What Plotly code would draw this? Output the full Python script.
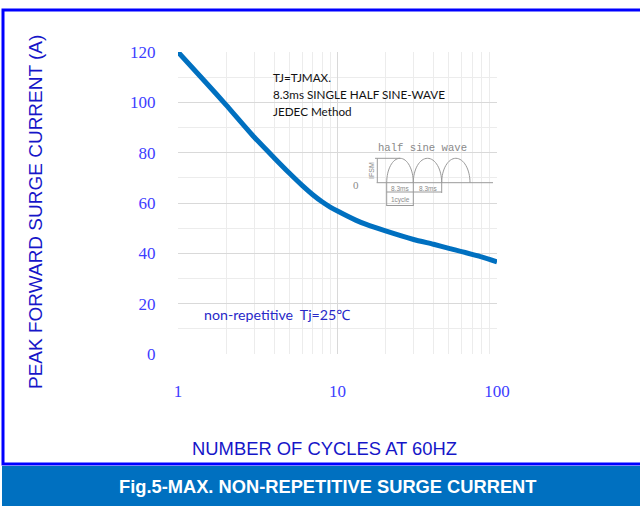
import plotly.graph_objects as go

# ---------------- data ----------------
cycles = [1, 1.5, 2, 3, 4, 5, 6, 7, 8, 9, 10, 13, 15, 20, 30, 40, 50, 80, 100]
current = [120, 107.8, 99, 86.2, 78, 71.8, 67, 63.3, 60.5, 58.4, 56.8, 53.2, 51.6, 48.9, 45.5, 43.6, 42.0, 38.6, 36.6]
y_ticks = [0, 20, 40, 60, 80, 100, 120]
x_ticks = [1, 10, 100]
x_tick_labels = ["1", "10", "100"]

W, H = 640, 506
L, R, T, B = 178, 143, 52, 152
PW, PH = W - L - R, H - T - B


def px(x):
    return (x - L) / PW


def py(y):
    return (H - B - y) / PH


fig = go.Figure()
fig.add_trace(go.Scatter(
    x=cycles, y=current, mode="lines",
    line=dict(color="#0070C0", width=5, shape="spline", smoothing=0.6),
    hoverinfo="skip", showlegend=False,
))

tick_font = dict(family="Liberation Serif, Times New Roman, serif", size=17, color="#3d3dff")
fig.update_xaxes(
    type="log", range=[0, 2], tickvals=x_ticks, ticktext=x_tick_labels,
    showgrid=True, gridcolor="#d9d9d9", gridwidth=1,
    minor=dict(dtick="D1", showgrid=True, gridcolor="#ececec", gridwidth=1, ticks=""),
    ticks="outside", ticklen=22, tickcolor="rgba(0,0,0,0)",
    tickfont=tick_font, showline=False, zeroline=False,
)
fig.update_yaxes(
    range=[0, 120], tickvals=y_ticks,
    showgrid=True, gridcolor="#d9d9d9", gridwidth=1,
    minor=dict(dtick=10, showgrid=True, gridcolor="#ececec", gridwidth=1, ticks=""),
    ticks="outside", ticklen=18, tickcolor="rgba(0,0,0,0)",
    tickfont=tick_font, showline=False, zeroline=False,
)

shapes = []


def rect(x0, y0, x1, y1, fill=None, line=None, lw=0, layer="above"):
    d = dict(type="rect", xref="paper", yref="paper",
             x0=px(x0), x1=px(x1), y0=py(y1), y1=py(y0), layer=layer,
             line=dict(width=lw, color=line or "rgba(0,0,0,0)"))
    if fill:
        d["fillcolor"] = fill
    shapes.append(d)


def seg(x0, y0, x1, y1, color="#9a9a9a", w=1):
    shapes.append(dict(type="line", xref="paper", yref="paper",
                       x0=px(x0), y0=py(y0), x1=px(x1), y1=py(y1),
                       line=dict(color=color, width=w), layer="above"))


# white boxes hiding the grid behind the notes
rect(252, 63, 485, 135, fill="white", layer="between")
rect(348, 135, 490, 212, fill="white", layer="between")
rect(182, 290, 382, 355, fill="white", layer="between")

# outer frame and bottom bar
rect(3, 10, 643, 464, line="#0000ff", lw=3)
rect(2, 466, 642, 507, fill="#0070C0")

# inset: half sine wave sketch
base, peak = 182.7, 158.3
seg(376.7, base, 493, base)
k = 0.5523
for a, b in [(386.7, 413.3), (413.3, 441.7), (441.7, 470)]:
    m = (a + b) / 2
    hw = (b - a) / 2
    hh = base - peak
    path = (f"M {px(a)},{py(base)} "
            f"C {px(a)},{py(base - k * hh)} {px(m - k * hw)},{py(peak)} {px(m)},{py(peak)} "
            f"C {px(m + k * hw)},{py(peak)} {px(b)},{py(base - k * hh)} {px(b)},{py(base)}")
    shapes.append(dict(type="path", xref="paper", yref="paper", path=path,
                       line=dict(color="#9a9a9a", width=1), layer="above"))
seg(377.3, peak, 377.3, base)
seg(375, peak, 400, peak)
seg(386.7, base, 386.7, 206)
seg(413.3, base, 413.3, 206)
seg(441.7, base, 441.7, 193)
seg(386.7, 192, 441.7, 192)
seg(386.7, 205.5, 413.3, 205.5)

fig.update_layout(shapes=shapes)

ann = []


def text(x, y, s, size, color, family, xanchor="center", angle=0, bold=False):
    if bold:
        s = f"<b>{s}</b>"
    ann.append(dict(x=px(x), y=py(y), xref="paper", yref="paper", text=s,
                    showarrow=False, xanchor=xanchor, yanchor="middle",
                    textangle=angle, font=dict(size=size, color=color, family=family)))


sans = "Liberation Sans, Arial, sans-serif"
note = "Lato, Noto Sans, sans-serif"
text(324, 448, "NUMBER OF CYCLES AT 60HZ", 18.4, "#1616c8", sans)
text(35, 212, "PEAK FORWARD SURGE CURRENT (A)", 19, "#1616c8", sans, angle=-90)
text(327, 486, "Fig.5-MAX. NON-REPETITIVE SURGE CURRENT", 18.3, "white", sans, bold=True)
text(271, 77, "TJ=TJMAX.", 11.7, "#111111", note, xanchor="left")
text(271, 94, "8.3ms SINGLE HALF SINE-WAVE", 11.7, "#111111", note, xanchor="left")
text(271, 111, "JEDEC Method", 11.7, "#111111", note, xanchor="left")
text(202, 314, "non-repetitive  Tj=25℃", 14.2, "#2828c8", note, xanchor="left")
text(422.5, 148, "half sine wave", 10.6, "#8a8a8a", "Liberation Mono, monospace")
text(356, 185, "0", 11, "#8a8a8a", "Liberation Serif, serif")
text(371.5, 170.5, "IFSM", 7, "#8a8a8a", sans, angle=-90)
text(400, 188, "8.3ms", 6.5, "#8a8a8a", sans)
text(428, 188, "8.3ms", 6.5, "#8a8a8a", sans)
text(400, 200, "1cycle", 6.5, "#8a8a8a", sans)
fig.update_layout(annotations=ann)

fig.update_layout(
    width=W, height=H,
    margin=dict(l=L, r=R, t=T, b=B, pad=0),
    paper_bgcolor="white", plot_bgcolor="white",
    showlegend=False,
)

fig.write_html("out.html", config={"displayModeBar": False},
               post_script="document.body.style.margin='0';document.body.style.overflow='hidden';")
